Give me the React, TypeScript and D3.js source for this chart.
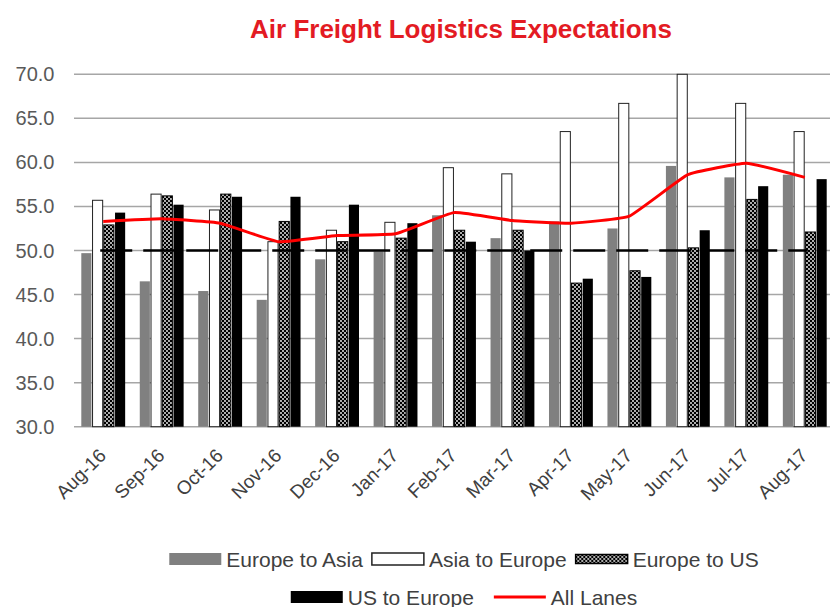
import React, { useEffect, useRef } from "react";
import * as d3 from "d3";

const categories = [
  "Aug-16", "Sep-16", "Oct-16", "Nov-16", "Dec-16", "Jan-17", "Feb-17",
  "Mar-17", "Apr-17", "May-17", "Jun-17", "Jul-17", "Aug-17",
];
const europeToAsia = [49.7, 46.5, 45.4, 44.4, 49.0, 49.9, 54.0, 51.4, 53.3, 52.5, 59.6, 58.3, 58.6];
const asiaToEurope = [55.7, 56.4, 54.6, 51.0, 52.3, 53.2, 59.4, 58.7, 63.5, 66.7, 70.0, 66.7, 63.5];
const europeToUS = [52.9, 56.2, 56.4, 53.3, 51.0, 51.4, 52.3, 52.3, 46.3, 47.7, 50.3, 55.8, 52.1];
const usToEurope = [54.3, 55.2, 56.1, 56.1, 55.2, 53.1, 51.0, 50.0, 46.8, 47.0, 52.3, 57.3, 58.1];
const allLanes = [53.3, 53.6, 53.1, 51.0, 51.7, 51.9, 54.3, 53.4, 53.1, 53.9, 58.6, 59.9, 58.3];
const neutralLevel = 50;
const yTicks = [30, 35, 40, 45, 50, 55, 60, 65, 70];

const seriesNames = ["Europe to Asia", "Asia to Europe", "Europe to US", "US to Europe"];
const seriesValues = [europeToAsia, asiaToEurope, europeToUS, usToEurope];
const lineName = "All Lanes";

const FONT = "'Liberation Sans', Arial, sans-serif";

const App: React.FC = () => {
  const ref = useRef<SVGSVGElement>(null);

  useEffect(() => {
    const svg = d3.select(ref.current);
    svg.selectAll("*").remove();

    const margin = { top: 74.3, left: 74, right: 834, bottom: 426.7 };

    // pattern for the Europe to US bars
    const defs = svg.append("defs");
    const pat = defs
      .append("pattern")
      .attr("id", "dots")
      .attr("patternUnits", "userSpaceOnUse")
      .attr("width", 4)
      .attr("height", 4);
    pat.append("rect").attr("width", 4).attr("height", 4).attr("fill", "#000");
    pat.append("circle").attr("cx", 1).attr("cy", 1).attr("r", 0.9).attr("fill", "#fff");
    pat.append("circle").attr("cx", 3).attr("cy", 3).attr("r", 0.9).attr("fill", "#fff");

    const fills = ["#808080", "#ffffff", "url(#dots)", "#000000"];
    const strokes = ["none", "#222", "#000", "none"];

    const x = d3.scaleBand().domain(categories).range([margin.left, margin.right]).padding(0);
    const x1 = d3
      .scaleBand()
      .domain(seriesNames)
      .range([7.3, x.bandwidth() - 7.3])
      .paddingInner(0.1);
    const y = d3.scaleLinear().domain([30, 70]).range([margin.bottom, margin.top]);

    // title
    svg
      .append("text")
      .attr("x", 461)
      .attr("y", 38)
      .attr("text-anchor", "middle")
      .attr("font-family", FONT)
      .attr("font-weight", "bold")
      .attr("font-size", 26)
      .attr("fill", "#e31b23")
      .text("Air Freight Logistics Expectations");

    // gridlines
    svg
      .append("g")
      .selectAll("line")
      .data(yTicks)
      .enter()
      .append("line")
      .attr("x1", margin.left)
      .attr("x2", margin.right)
      .attr("y1", (d) => y(d))
      .attr("y2", (d) => y(d))
      .attr("stroke", "#a6a6a6")
      .attr("stroke-width", 1.5);

    // y labels
    svg
      .append("g")
      .selectAll("text")
      .data(yTicks)
      .enter()
      .append("text")
      .attr("x", 54.5)
      .attr("y", (d) => y(d) + 7)
      .attr("text-anchor", "end")
      .attr("font-family", FONT)
      .attr("font-size", 20)
      .attr("fill", "#595959")
      .text((d) => d.toFixed(1));

    // bars
    seriesNames.forEach((name, i) => {
      svg
        .append("g")
        .selectAll("rect")
        .data(seriesValues[i])
        .enter()
        .append("rect")
        .attr("x", (_, j) => (x(categories[j]) as number) + (x1(name) as number))
        .attr("y", (d) => y(d))
        .attr("width", x1.bandwidth())
        .attr("height", (d) => y(30) - y(d))
        .attr("fill", fills[i])
        .attr("stroke", strokes[i])
        .attr("stroke-width", strokes[i] === "none" ? 0 : 1);
    });

    const cx = (c: string) => (x(c) as number) + x.bandwidth() / 2;

    // neutral 50 line
    svg
      .append("line")
      .attr("x1", cx(categories[0]) - 3)
      .attr("x2", cx(categories[categories.length - 1]) + 3)
      .attr("y1", y(neutralLevel))
      .attr("y2", y(neutralLevel))
      .attr("stroke", "#000")
      .attr("stroke-width", 2.5)
      .attr("stroke-dasharray", "32,11");

    // all lanes line
    const line = d3
      .line<number>()
      .x((_, j) => cx(categories[j]))
      .y((d) => y(d))
      .curve(d3.curveCardinal.tension(0.65));
    svg
      .append("path")
      .datum(allLanes)
      .attr("d", line)
      .attr("fill", "none")
      .attr("stroke", "#ff0000")
      .attr("stroke-width", 3);

    // x labels
    svg
      .append("g")
      .selectAll("text")
      .data(categories)
      .enter()
      .append("text")
      .attr("transform", (d) => `translate(${cx(d) + 4},${margin.bottom + 30}) rotate(-45)`)
      .attr("text-anchor", "end")
      .attr("font-family", FONT)
      .attr("font-size", 19)
      .attr("fill", "#404040")
      .text((d) => d);

    // legend
    const rows = [
      { items: [0, 1, 2], y: 559, gap: 9 },
      { items: [3, 4], y: 597, gap: 20 },
    ];
    rows.forEach((row) => {
      const g = svg.append("g");
      let cursor = 0;
      row.items.forEach((k) => {
        const label = k < 4 ? seriesNames[k] : lineName;
        if (k < 4) {
          g.append("rect")
            .attr("x", cursor)
            .attr("y", row.y - (k === 2 ? 4.5 : 6))
            .attr("width", 52)
            .attr("height", k === 2 ? 9 : 12)
            .attr("fill", fills[k])
            .attr("stroke", strokes[k])
            .attr("stroke-width", strokes[k] === "none" ? 0 : 1.5);
        } else {
          g.append("line")
            .attr("x1", cursor)
            .attr("x2", cursor + 52)
            .attr("y1", row.y)
            .attr("y2", row.y)
            .attr("stroke", "#ff0000")
            .attr("stroke-width", 3);
        }
        const t = g
          .append("text")
          .attr("x", cursor + 57)
          .attr("y", row.y + 7.5)
          .attr("font-family", FONT)
          .attr("font-size", 21)
          .attr("fill", "#404040")
          .text(label);
        const w = (t.node() as SVGTextElement).getComputedTextLength();
        cursor += 57 + w + row.gap;
      });
      const total = cursor - row.gap;
      g.attr("transform", `translate(${464 - total / 2},0)`);
    });
  }, []);

  return (
    <svg
      ref={ref}
      width={830}
      height={607}
      style={{ position: "absolute", left: 0, top: 0, background: "#fff" }}
    />
  );
};

export default App;
